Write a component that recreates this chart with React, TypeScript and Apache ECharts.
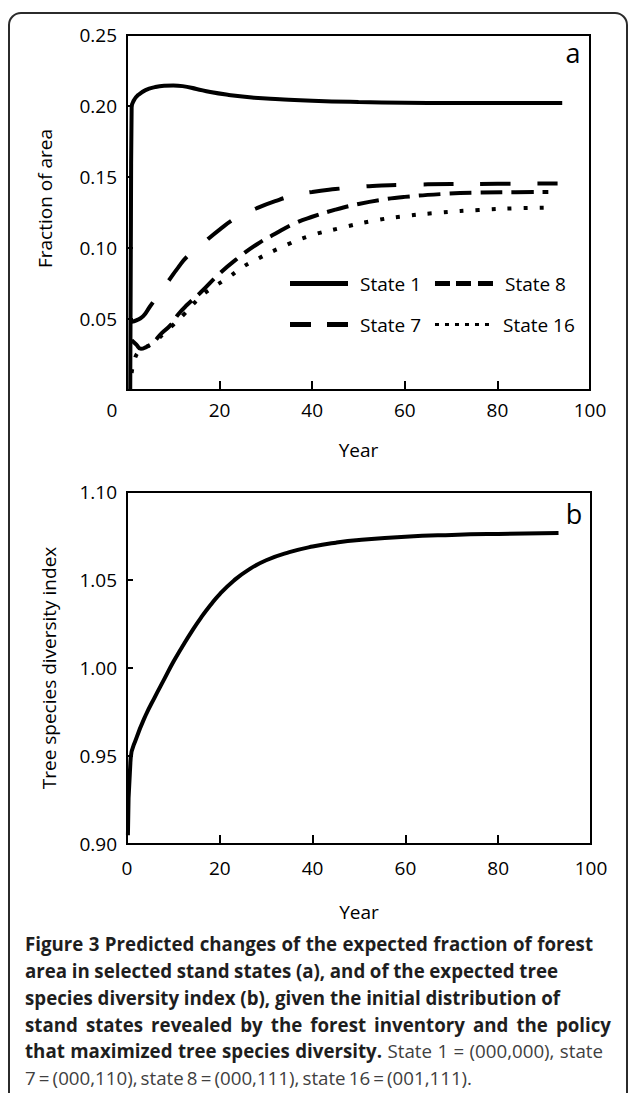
import React, { useEffect, useRef } from "react";
import * as echarts from "echarts";

// ---------- data ----------
const fractionTicks = [0.05, 0.1, 0.15, 0.2, 0.25];
const diversityTicks = [0.9, 0.95, 1.0, 1.05, 1.1];

const state1 = [
  [0.7, 0.0], [0.85, 0.12], [1.0, 0.199], [1.5, 0.204], [2.5, 0.208], [4, 0.2112],
  [6, 0.2133], [8, 0.2143], [10, 0.2145], [12, 0.214], [15, 0.212], [18, 0.2098],
  [22, 0.2078], [27, 0.206], [33, 0.2048], [40, 0.2037], [50, 0.2028], [60, 0.2023],
  [70, 0.2021], [80, 0.2021], [94, 0.2021],
];
const state7 = [
  [1, 0.048], [2, 0.049], [3.5, 0.052], [5, 0.059], [7, 0.068], [9, 0.077], [11, 0.086],
  [13, 0.094], [16, 0.102], [20, 0.113], [24, 0.122], [28, 0.128], [32, 0.133], [36, 0.137],
  [40, 0.1395], [45, 0.1415], [50, 0.143], [55, 0.144], [60, 0.1445], [70, 0.145],
  [80, 0.1452], [93, 0.1455],
];
const state8 = [
  [1, 0.035], [2, 0.032], [3, 0.029], [4, 0.03], [5.5, 0.033], [7.5, 0.04], [9.5, 0.046],
  [11, 0.053], [13, 0.06], [16, 0.069], [20, 0.082], [24, 0.093], [28, 0.1025], [32, 0.11],
  [36, 0.117], [40, 0.122], [45, 0.127], [50, 0.131], [55, 0.134], [60, 0.136], [68, 0.138],
  [76, 0.139], [84, 0.1393], [91, 0.1395],
];
const state16 = [
  [1, 0.012], [1.5, 0.02], [2.5, 0.027], [4, 0.03], [6, 0.034], [8, 0.04], [10, 0.046],
  [12.5, 0.054], [15.8, 0.0655], [18, 0.071], [22, 0.0795], [25, 0.0866], [28, 0.092],
  [33, 0.1], [39, 0.108], [46, 0.114], [53, 0.119], [60, 0.1225], [68, 0.125], [76, 0.1268],
  [84, 0.128], [92, 0.1285],
];
const diversity = [
  [0.2, 0.905], [0.8, 0.949], [2, 0.96], [4, 0.973], [6, 0.9835], [8, 0.9935], [10, 1.0035],
  [12, 1.0125], [14, 1.021], [16, 1.0288], [18, 1.0358], [20, 1.042], [23, 1.0496],
  [26, 1.0555], [30, 1.0612], [35, 1.0658], [40, 1.069], [45, 1.0712], [50, 1.0727],
  [60, 1.0746], [70, 1.0756], [80, 1.0762], [93, 1.0767],
];

const captionLines: { segs: [string, boolean][]; end: number }[] = [
  { segs: [["Figure 3 Predicted changes of the expected fraction of forest", true]], end: 593 },
  { segs: [["area in selected stand states (a), and of the expected tree", true]], end: 558 },
  { segs: [["species diversity index (b), given the initial distribution of", true]], end: 560 },
  { segs: [["stand states revealed by the forest inventory and the policy", true]], end: 611 },
  {
    segs: [
      ["that maximized tree species diversity.", true],
      ["State 1 = (000,000), state", false],
    ],
    end: 603,
  },
  { segs: [["7 = (000,110), state 8 = (000,111), state 16 = (001,111).", false]], end: 472 },
];

const FONT = '"Open Sans", "Noto Sans", sans-serif';

export default function App() {
  const ref = useRef<HTMLDivElement>(null);

  useEffect(() => {
    if (!ref.current) return;
    const chart = echarts.init(ref.current, null, { renderer: "svg" });

    // ----- caption layout (justified word placement) -----
    const canvas = document.createElement("canvas");
    const ctx = canvas.getContext("2d") as CanvasRenderingContext2D;
    const measure = (t: string, bold: boolean, size: number) => {
      ctx.font = `${bold ? "bold " : ""}${size}px ${FONT}`;
      return ctx.measureText(t).width;
    };
    const capLeft = 25;
    const lineWords = captionLines.map((ln) => {
      const words: { t: string; b: boolean }[] = [];
      ln.segs.forEach(([txt, b]) => txt.split(" ").forEach((t) => words.push({ t, b })));
      return words;
    });
    const ratios = [0, 1, 2].map((i) => {
      const nat = lineWords[i].reduce((s, w) => s + measure(w.t, w.b, 16), 0) +
        (lineWords[i].length - 1) * measure(" ", true, 16);
      return (captionLines[i].end - capLeft) / nat;
    });
    let capSize = (16 * ratios.reduce((a, b) => a + b, 0)) / ratios.length;
    capSize = Math.max(14, Math.min(19, capSize));
    const capY = [943, 970, 997, 1024, 1050, 1077];
    const captionEls: any[] = [];
    lineWords.forEach((words, i) => {
      const widths = words.map((w) => measure(w.t, w.b, capSize));
      const sum = widths.reduce((a, b) => a + b, 0);
      const gap = (captionLines[i].end - capLeft - sum) / (words.length - 1);
      let x = capLeft;
      words.forEach((w, j) => {
        captionEls.push({
          type: "text",
          x,
          y: capY[i],
          silent: true,
          style: {
            text: w.t,
            fontFamily: FONT,
            fontSize: capSize,
            fontWeight: w.b ? "bold" : "normal",
            fill: w.b ? "#1e1e1e" : "#404040",
            verticalAlign: "middle",
          },
        });
        x += widths[j] + gap;
      });
    });

    const axisLabelBase = { color: "#000", fontSize: 19, fontFamily: FONT };
    const nameStyle = { color: "#000", fontSize: 19, fontFamily: FONT };
    const axisLine = { show: true, lineStyle: { color: "#000", width: 2 } };

    const lineSeries = (name: string, data: number[][], type: any, idx: number) => ({
      name,
      type: "line",
      xAxisIndex: idx,
      yAxisIndex: idx,
      data,
      symbol: "none",
      showSymbol: false,
      smooth: 0.5,
      lineStyle: { color: "#000", width: 4, type, cap: "butt" },
      itemStyle: { color: "#000" },
      z: 3,
    });

    const legendText = { color: "#000", fontSize: 19, fontFamily: FONT, padding: [0, 0, 0, 7] };

    const option: any = {
      animation: false,
      backgroundColor: "#fff",
      grid: [
        { left: 127, top: 35, width: 463, height: 355, show: true, borderColor: "#000", borderWidth: 2, containLabel: false },
        { left: 127, top: 492, width: 464, height: 352, show: true, borderColor: "#000", borderWidth: 2, containLabel: false },
      ],
      xAxis: [
        {
          type: "value", gridIndex: 0, min: 0, max: 100, interval: 20,
          axisLine, splitLine: { show: false },
          axisTick: { inside: true, length: 9, lineStyle: { color: "#000", width: 2 } },
          axisLabel: {
            ...axisLabelBase, margin: 10,
            formatter: (v: number) => (v === 0 ? "{z|0}" : String(v)),
            rich: { z: { ...axisLabelBase, padding: [0, 30, 0, 0] } },
          },
          name: "Year", nameLocation: "middle", nameGap: 50, nameTextStyle: nameStyle,
        },
        {
          type: "value", gridIndex: 1, min: 0, max: 100, interval: 20,
          axisLine, splitLine: { show: false },
          axisTick: { inside: true, length: 9, lineStyle: { color: "#000", width: 2 } },
          axisLabel: { ...axisLabelBase, margin: 14 },
          name: "Year", nameLocation: "middle", nameGap: 58, nameTextStyle: nameStyle,
        },
      ],
      yAxis: [
        {
          type: "value", gridIndex: 0, min: 0, max: 0.25, interval: 0.05,
          axisLine, splitLine: { show: false },
          axisTick: { inside: true, length: 6, lineStyle: { color: "#000", width: 2 } },
          axisLabel: {
            ...axisLabelBase, margin: 10,
            formatter: (v: number) => {
              const hit = fractionTicks.find((t) => Math.abs(t - v) < 1e-9);
              return hit === undefined ? "" : hit.toFixed(2);
            },
          },
          name: "Fraction of area", nameLocation: "middle", nameGap: 73,
          nameTextStyle: { ...nameStyle, padding: [0, 0, 0, 28] },
        },
        {
          type: "value", gridIndex: 1, min: 0.9, max: 1.1, interval: 0.05,
          axisLine, splitLine: { show: false },
          axisTick: { inside: true, length: 6, lineStyle: { color: "#000", width: 2 } },
          axisLabel: {
            ...axisLabelBase, margin: 10,
            formatter: (v: number) => {
              const hit = diversityTicks.find((t) => Math.abs(t - v) < 1e-9);
              return hit === undefined ? "" : hit.toFixed(2);
            },
          },
          name: "Tree species diversity index", nameLocation: "middle", nameGap: 69,
          nameTextStyle: nameStyle,
        },
      ],
      legend: [
        {
          left: 290, top: 274, padding: 0, itemGap: 14, itemWidth: 58, itemHeight: 5,
          selectedMode: false, textStyle: legendText,
          data: [
            { name: "State 1", icon: "path://M0,0H58V5H0Z" },
            { name: "State 8", icon: "path://M0,0H15V5H0Z M21,0H36V5H21Z M43,0H58V5H43Z" },
          ],
        },
        {
          left: 290, top: 315, padding: 0, itemGap: 14, itemWidth: 58, itemHeight: 5,
          selectedMode: false, textStyle: legendText,
          data: [
            { name: "State 7", icon: "path://M0,0H21V5H0Z M37,0H58V5H37Z" },
            {
              name: "State 16",
              icon: "path://M0,1H4V4H0Z M10,1H14V4H10Z M20,1H24V4H20Z M30,1H34V4H30Z M40,1H44V4H40Z M50,1H54V4H50Z M54,0V5",
            },
          ],
        },
      ],
      series: [
        lineSeries("State 1", state1, "solid", 0),
        lineSeries("State 7", state7, [30, 27], 0),
        lineSeries("State 8", state8, [22, 9], 0),
        lineSeries("State 16", state16, [4, 12], 0),
        lineSeries("Diversity", diversity, "solid", 1),
      ],
      graphic: [
        {
          type: "rect", silent: true, z: -1,
          shape: { x: 9, y: 13, width: 618, height: 1120, r: 12 },
          style: { fill: "none", stroke: "#2b2b2b", lineWidth: 2 },
        },
        {
          type: "text", x: 573, y: 52, silent: true,
          style: { text: "a", fontFamily: FONT, fontSize: 27, fill: "#000", align: "center", verticalAlign: "middle" },
        },
        {
          type: "text", x: 574, y: 513, silent: true,
          style: { text: "b", fontFamily: FONT, fontSize: 27, fill: "#000", align: "center", verticalAlign: "middle" },
        },
        ...captionEls,
      ],
    };

    chart.setOption(option);
    return () => chart.dispose();
  }, []);

  return (
    <div
      ref={ref}
      style={{ position: "absolute", left: 0, top: 0, width: 630, height: 1093, background: "#fff" }}
    />
  );
}
